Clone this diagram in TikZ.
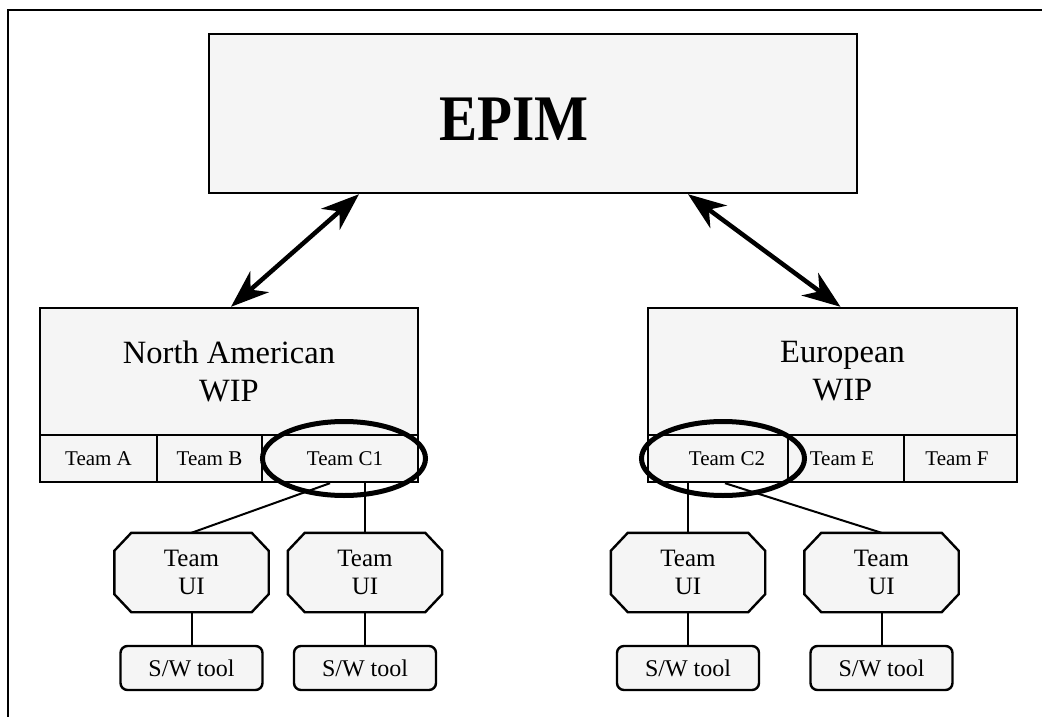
\documentclass[tikz,border=0pt]{standalone}
\usepackage{fontspec}
\setmainfont{Liberation Serif}
\usetikzlibrary{shapes.geometric,arrows.meta,calc}
\pgfdeclarelayer{background}
\pgfsetlayers{background,main}
\begin{document}
\begin{tikzpicture}[x=1pt,y=-1pt,
  box/.style={draw, line width=2.4pt, fill=black!4, inner sep=0pt},
  wip/.style={box, minimum width=378pt, minimum height=127pt, align=center,
    font=\fontsize{32.5}{38}\selectfont},
  cell/.style={box, minimum height=47pt, font=\fontsize{21}{21}\selectfont},
  ui/.style={inner sep=0pt, minimum width=154pt, minimum height=79pt,
    align=center, font=\fontsize{25}{28}\selectfont},
  octagon/.style={box},
  tool/.style={box, rounded corners=7pt, minimum width=142pt, minimum height=44pt,
    font=\fontsize{24}{24}\selectfont},
  ring/.style={draw, ellipse, line width=5pt, minimum width=163pt,
    minimum height=74pt, inner sep=0pt},
  link/.style={line width=2pt},
  biarrow/.style={line width=4.5pt,
    {Stealth[length=38pt,width=28pt,inset=12pt]}-{Stealth[length=38pt,width=28pt,inset=12pt]}}
]
\useasboundingbox (0,0) rectangle (1042,717);

% outer frame (left and top edges)
\draw[line width=2.4pt] (8,717) -- (8,10) -- (1042,10);

% top level
\node[box, minimum width=648pt, minimum height=159pt] (epim) at (533,113.5) {};
\node[anchor=base, font=\fontsize{65}{65}\bfseries\selectfont] (epimlabel) at (514,140)
  {\scalebox{0.88}[1]{EPIM}};

% regional WIP boxes
\node[wip] (na) at (229,371.5) {North American\\WIP};
\node[wip, minimum width=369pt] (eu) at (832.5,371.5) {\hspace*{20pt}European\\\hspace*{20pt}WIP};

% team rows
\node[cell, minimum width=117pt] (ta) at (98.5,458.5) {Team A};
\node[cell, minimum width=105pt] (tb) at (209.5,458.5) {Team B};
\node[cell, minimum width=156pt] (c1) at (340,458.5) {\hspace*{10pt}Team C1};
\node[cell, minimum width=140pt] (c2) at (718,458.5) {\hspace*{18pt}Team C2};
\node[cell, minimum width=116pt] (te) at (846,458.5) {Team E\hspace*{8pt}};
\node[cell, minimum width=113pt] (tf) at (960.5,458.5) {Team F\hspace*{7pt}};

% highlighted teams
\node[ring] (ringc1) at (344,458.5) {};
\node[ring] (ringc2) at (723,458.5) {};

% UI teams (octagonal outlines drawn behind the labels)
\node[ui] (ui1) at (191.5,572.5) {Team\\UI};
\node[ui] (ui2) at (365,572.5) {Team\\UI};
\node[ui] (ui3) at (688,572.5) {Team\\UI};
\node[ui] (ui4) at (881.5,572.5) {Team\\UI};
\begin{pgfonlayer}{background}
\foreach \n in {ui1,ui2,ui3,ui4}
  \draw[octagon]
    ($(\n.north west)+(17,0)$) -- ($(\n.north east)+(-17,0)$)
    -- ($(\n.north east)+(0,18)$) -- ($(\n.south east)+(0,-18)$)
    -- ($(\n.south east)+(-17,0)$) -- ($(\n.south west)+(17,0)$)
    -- ($(\n.south west)+(0,-18)$) -- ($(\n.north west)+(0,18)$) -- cycle;
\end{pgfonlayer}

% tools
\node[tool] (sw1) at (191.5,668) {S/W tool};
\node[tool] (sw2) at (365,668) {S/W tool};
\node[tool] (sw3) at (688,668) {S/W tool};
\node[tool] (sw4) at (881.5,668) {S/W tool};

% links between levels
\draw[link] ([xshift=-10pt]c1.south) -- (ui1.north);
\draw[link] (ui2.north |- c1.south) -- (ui2.north);
\draw[link] (ui3.north |- c2.south) -- (ui3.north);
\draw[link] ([xshift=7pt]c2.south) -- (ui4.north);
\draw[link] (ui1.south) -- (sw1.north);
\draw[link] (ui2.south) -- (sw2.north);
\draw[link] (ui3.south) -- (sw3.north);
\draw[link] (ui4.south) -- (sw4.north);

% two-way exchange with EPIM
\draw[biarrow] ([xshift=-174pt]epim.south) -- ([xshift=2pt]na.north);
\draw[biarrow] ([xshift=155pt]epim.south) -- ([xshift=8pt]eu.north);
\end{tikzpicture}
\end{document}
